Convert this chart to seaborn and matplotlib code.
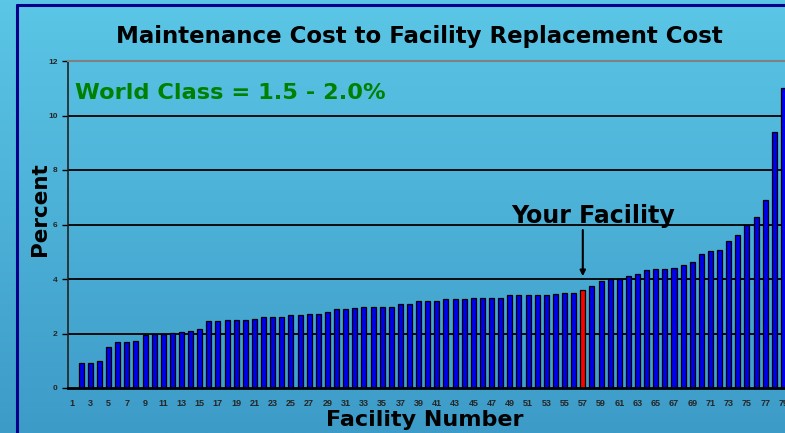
import numpy as np
import pandas as pd
import seaborn as sns
import matplotlib.pyplot as plt
from matplotlib.lines import Line2D
from matplotlib.colors import LinearSegmentedColormap

# Facility numbers and cost ratio (percent), sorted ascending
facility = list(range(1, 80))
percent = [0.0, 0.91, 0.91, 1.0, 1.5, 1.7, 1.7, 1.73, 1.93, 1.98,
           2.0, 2.02, 2.05, 2.1, 2.17, 2.46, 2.46, 2.5, 2.5, 2.5,
           2.53, 2.59, 2.59, 2.59, 2.67, 2.69, 2.7, 2.7, 2.8, 2.9,
           2.9, 2.93, 2.96, 2.96, 2.98, 2.99, 3.1, 3.1, 3.2, 3.2,
           3.21, 3.25, 3.25, 3.26, 3.29, 3.31, 3.31, 3.31, 3.4, 3.4,
           3.4, 3.4, 3.4, 3.44, 3.5, 3.5, 3.61, 3.73, 3.91, 4.01,
           4.01, 4.1, 4.18, 4.32, 4.35, 4.35, 4.39, 4.5, 4.61, 4.9,
           5.01, 5.05, 5.4, 5.6, 6.0, 6.26, 6.89, 9.41, 11.0]
your_facility = 57
y_ticks = [0, 2, 4, 6, 8, 10, 12]

df = pd.DataFrame({'Facility': [str(f) for f in facility], 'Percent': percent})
colors = ['#ff0000' if f == your_facility else '#0000ee' for f in facility]

sns.set_theme(style='white')
plt.rcParams['font.family'] = ['Liberation Sans', 'DejaVu Sans']
plt.rcParams['font.weight'] = 'bold'
big = ['DejaVu Sans']

fig = plt.figure(figsize=(7.85, 4.33), dpi=100)

# gradient background
bg = fig.add_axes([0, 0, 1, 1], zorder=-10)
cmap = LinearSegmentedColormap.from_list('bg', ['#5bc6e6', '#3d9bc8'])
bg.imshow(np.linspace(0, 1, 256).reshape(-1, 1), aspect='auto', cmap=cmap,
          extent=[0, 1, 0, 1])
bg.axis('off')

# frame lines
fig.add_artist(Line2D([17 / 785, 17 / 785], [0, 1 - 5 / 433], color='#00008b', lw=2.2,
                      transform=fig.transFigure))
fig.add_artist(Line2D([17 / 785, 1], [1 - 5 / 433, 1 - 5 / 433], color='#00008b', lw=2.2,
                      transform=fig.transFigure))

ax = fig.add_axes([67.5 / 785, 45 / 433, 720.5 / 785, 327 / 433])
ax.patch.set_alpha(0)

sns.barplot(data=df, x='Facility', y='Percent', hue='Facility', palette=colors,
            order=df['Facility'], hue_order=df['Facility'], legend=False,
            width=0.55, edgecolor='black', linewidth=0.9, saturation=1, ax=ax)

ax.set_xlim(-0.5, 78.5)
ax.set_ylim(0, 12)
ax.set_yticks(y_ticks)
ax.set_yticklabels([str(t) for t in y_ticks], fontsize=6, fontweight='bold')
ax.set_xticks(range(len(facility)))
ax.set_xticklabels([str(f) if f % 2 == 1 else '' for f in facility],
                   fontsize=6.5, fontweight='bold')
ax.set_xticks(np.arange(-0.5, 79, 1), minor=True)
ax.tick_params(axis='x', which='major', length=0, pad=8)
ax.tick_params(axis='x', which='minor', length=3, width=1, color='black', direction='out')
ax.tick_params(axis='y', length=4, width=1, color='black', direction='out', pad=3, left=True)

for v in y_ticks[1:-1]:
    ax.axhline(v, color='black', lw=1.3, zorder=0)

ax.spines['right'].set_visible(False)
ax.spines['top'].set_color('#808080')
ax.spines['top'].set_linewidth(1.5)
ax.spines['left'].set_color('#222222')
ax.spines['left'].set_linewidth(1.2)
ax.spines['bottom'].set_color('black')
ax.spines['bottom'].set_linewidth(2)

ax.set_xlabel('')
ax.set_ylabel('')

fig.text(419 / 785, 1 - 37 / 433, 'Maintenance Cost to Facility Replacement Cost',
         ha='center', va='center', fontsize=16.5, fontweight='bold', color='black', family=big)
fig.text(40 / 785, 1 - 209 / 433, 'Percent', rotation=90, ha='center', va='center',
         fontsize=15.5, fontweight='bold', color='black', family=big)
fig.text(425 / 785, 1 - 420 / 433, 'Facility Number', ha='center', va='center',
         fontsize=16, fontweight='bold', color='black', family=big)

ax.text(0.32, 10.62, 'World Class = 1.5 - 2.0%', color='#008000', fontsize=16.2,
        fontweight='bold', ha='left', va='baseline', family=big)
ax.text(48.2, 6.07, 'Your Facility', color='black', fontsize=17,
        fontweight='bold', ha='left', va='baseline', family=big)
ax.annotate('', xy=(your_facility - 1, 4.0), xytext=(your_facility - 1, 5.9),
            arrowprops=dict(arrowstyle='-|>', color='black', lw=1.5, mutation_scale=8))

fig.savefig('out.png', dpi=100)
